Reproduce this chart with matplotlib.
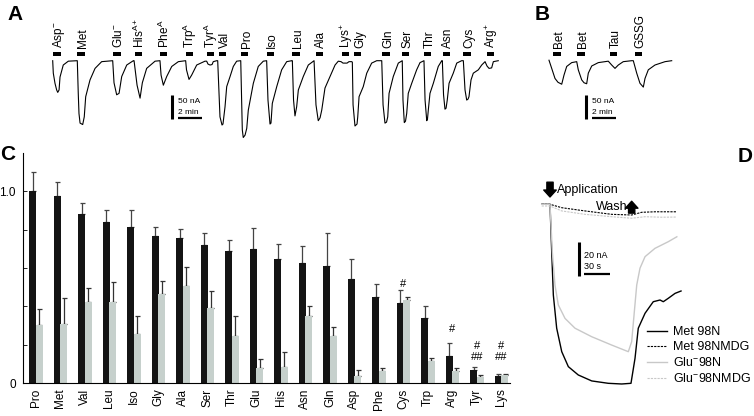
import matplotlib
matplotlib.use('Agg')
import matplotlib.pyplot as plt
from matplotlib.patches import Rectangle
import numpy as np

plt.rcParams['font.family'] = ['Liberation Sans', 'DejaVu Sans']
plt.rcParams['mathtext.fontset'] = 'custom'
plt.rcParams['mathtext.rm'] = 'Liberation Sans'
plt.rcParams['mathtext.it'] = 'Liberation Sans:italic'
plt.rcParams['mathtext.default'] = 'regular'

# ---------------- data ----------------
# Panel A: continuous current trace (time in min, current in nA)
trace_A_t = [0, 0.05, 0.19, 0.33, 0.42, 0.53, 0.61, 0.88, 1.3, 2.0,
             2.05, 2.13, 2.19, 2.28, 2.5, 2.63, 2.75, 3.11, 3.53, 4.08, 4.92,
             5.0, 5.11, 5.33, 5.53, 5.75, 6.17, 6.72,
             6.78, 7.03, 7.28, 7.47, 7.83, 8.53, 8.94,
             9.03, 9.22, 9.5, 9.92, 10.47, 11.03,
             11.08, 11.15, 11.36, 11.58, 12.0, 12.69,
             12.83, 12.94, 13.11, 13.28, 13.38, 13.67, 13.75,
             13.94, 14.11, 14.19, 14.36, 14.5, 14.78, 15.05, 15.33, 15.61,
             15.67, 15.8, 15.88, 16.03, 16.17, 16.3, 16.72, 17.13, 17.55, 17.83,
             17.94, 18.11, 18.19, 18.3, 18.67, 19.08, 19.5, 19.92,
             19.97, 20.07, 20.19, 20.33, 20.47, 20.88, 21.3, 21.72,
             21.78, 21.94, 22.13, 22.28, 22.42, 22.69, 23.11, 23.53, 23.8,
             24.03, 24.19, 24.53, 24.69, 24.92,
             24.97, 25.03, 25.19, 25.36, 25.42, 25.53, 25.88, 26.17, 26.58, 27.0, 27.36,
             27.42, 27.53, 27.69, 27.82, 27.92, 28.03, 28.38, 28.8, 29.13,
             29.19, 29.3, 29.4, 29.5, 29.63, 29.92, 30.33, 30.61, 30.94,
             31.03, 31.17, 31.23, 31.3, 31.44, 31.72, 32.13, 32.42,
             32.47, 32.57, 32.69, 32.78, 32.88, 33.03, 33.38, 33.67, 34.08, 34.22,
             34.36, 34.5, 34.61, 34.69, 34.86, 35.05, 35.47, 35.75, 36.03,
             36.19, 36.36, 36.58, 36.72, 37.13]
trace_A_nA = [0, -26, -47, -61, -66, -61, -34, -9, -1, 0,
              0, -68, -110, -130, -133, -117, -75, -40, -16, -2, 0,
              0, -46, -71, -68, -33, -9, 0,
              0, -51, -78, -46, -16, -1, 0,
              -30, -51, -33, -12, -2, 0,
              0, -19, -39, -30, -9, -1,
              -1, -7, -9, -8, -2, 0, 0,
              -117, -134, -132, -96, -54, -33, -12, -1, 0,
              0, -144, -160, -155, -141, -103, -47, -12, -1, 0,
              -82, -132, -130, -89, -54, -19, -2, 0,
              0, -82, -115, -96, -61, -33, -9, -1,
              0, -92, -125, -119, -103, -57, -33, -9, -1,
              -2, -5, -5, -2, -2,
              -3, -92, -136, -132, -117, -75, -54, -26, -5, 0, 0,
              0, -92, -130, -128, -117, -68, -33, -5, 0,
              -82, -129, -126, -110, -68, -47, -19, -4, 0,
              -82, -125, -122, -103, -68, -47, -12, 0,
              0, -71, -101, -99, -82, -47, -26, -5, 0, 0,
              -61, -82, -80, -75, -40, -26, -19, -9, -2,
              -11, -16, -15, -2, 0]
A_labels = [r'Asp$^{-}$', 'Met', r'Glu$^{-}$', r'His$^{A+}$', r'Phe$^{A}$', r'Trp$^{A}$',
            r'Tyr$^{A}$', 'Val', 'Pro', 'Iso', 'Leu', 'Ala', r'Lys$^{+}$', 'Gly',
            'Gln', 'Ser', 'Thr', 'Asn', 'Cys', r'Arg$^{+}$']
A_onsets = [0.05, 2.05, 5.05, 6.86, 8.94, 11.08, 12.83, 13.88, 15.69, 17.83,
            19.97, 21.92, 24.08, 25.13, 27.47, 29.08, 30.94, 32.5, 34.22, 36.17]
A_app_dur = 0.6          # min
scale_nA = 50
scale_min = 2

# Panel B
trace_B_t = [0, 0.225, 0.5, 0.75, 1.06, 1.25, 1.475, 1.89, 2.31,
             2.44, 2.725, 2.92, 3.14, 3.275, 3.56, 4.11, 4.94,
             5.225, 5.5, 5.775, 6.19, 6.89,
             7.025, 7.31, 7.58, 7.86, 8.0, 8.275, 8.83, 9.67, 10.225]
trace_B_nA = [1, -16, -37, -45, -49, -30, -12, -4, -2,
              -19, -40, -46, -48, -26, -11, -4, -1,
              -9, -16, -9, -2, 0,
              0, -26, -47, -55, -37, -19, -9, -2, 0]
B_labels = ['Bet', 'Bet', 'Tau', 'GSSG']
B_onsets = [0.36, 2.36, 5.08, 7.17]

# Panel C: normalized responses
aa = ['Pro', 'Met', 'Val', 'Leu', 'Iso', 'Gly', 'Ala', 'Ser', 'Thr', 'Glu',
      'His', 'Asn', 'Gln', 'Asp', 'Phe', 'Cys', 'Trp', 'Arg', 'Tyr', 'Lys']
black_mean = [1.00, 0.974, 0.88, 0.84, 0.816, 0.769, 0.758, 0.72, 0.689, 0.699,
              0.649, 0.628, 0.61, 0.544, 0.449, 0.419, 0.339, 0.143, 0.066, 0.037]
black_err = [0.10, 0.075, 0.06, 0.06, 0.088, 0.047, 0.047, 0.063, 0.059, 0.108,
             0.074, 0.089, 0.174, 0.103, 0.068, 0.068, 0.064, 0.067, 0.017, 0.010]
gray_mean = [0.303, 0.308, 0.421, 0.421, 0.256, 0.466, 0.504, 0.39, 0.247, 0.08,
             0.085, 0.351, 0.247, 0.035, 0.063, 0.431, 0.113, 0.061, 0.03, 0.04]
gray_err = [0.085, 0.137, 0.076, 0.106, 0.094, 0.066, 0.103, 0.09, 0.101, 0.045,
            0.078, 0.052, 0.047, 0.031, 0.017, 0.019, 0.019, 0.019, 0.010, 0.009]
sig_idx = [15, 17, 18, 18, 19, 19]
sig_txt = ['#', '#', '#', '##', '#', '##']
sig_y = [0.515, 0.282, 0.193, 0.134, 0.193, 0.134]

# Panel D: traces (time in s, current in nA)
met98N_t = [-9.7, 0, 2, 3.9, 7.8, 13.7, 21.4, 33, 48.7, 68, 83.7, 94.5,
            99.2, 103, 110.9, 120.5, 128.4, 132.2, 138, 145.9, 152.9]
met98N_nA = [0, 0, -27.9, -53.4, -72.9, -86.7, -95.5, -100.4, -103.9, -105.3, -105.7, -105.3,
             -90.6, -72.9, -64.1, -57.3, -56.3, -57.3, -55.3, -52.4, -51]
glu98N_t = [-9.7, 0, 2.7, 5.8, 9.7, 17.5, 29.2, 48.7, 72, 91.4,
            95.3, 98.4, 101.2, 105, 110.9, 122.5, 138, 148]
glu98N_nA = [0, 0, -27.9, -47.5, -59.2, -67.1, -72.9, -77.9, -82.8, -86.7,
             -80.8, -63.2, -47.5, -37.6, -30.8, -25.9, -22, -19.1]
met98NMDG_t = [-9.7, 0, 13.7, 40.8, 72, 95.3, 107, 122.5, 148]
met98NMDG_nA = [0, 0, -2, -3.9, -5.9, -6.3, -4.7, -4.4, -4.4]
glu98NMDG_t = [-9.7, 0, 13.7, 40.8, 72, 95.3, 110.9, 130.4, 148]
glu98NMDG_nA = [-1, -1, -3.9, -5.9, -7.3, -8.2, -7.3, -7.6, -7.5]
D_scale_nA = 20
D_scale_s = 30
wash_time = 95.3

# ---------------- figure ----------------
W, H = 754, 416
fig = plt.figure(figsize=(W / 100, H / 100), dpi=100)


def add_px_axes(x0, y0, x1, y1):
    ax = fig.add_axes([x0 / W, 1 - y1 / H, (x1 - x0) / W, (y1 - y0) / H])
    ax.set_axis_off()
    return ax


def trace_axes(box, origin, sx, sy):
    x0, y0, x1, y1 = box
    ax = add_px_axes(*box)
    ax.set_xlim((x0 - origin[0]) / sx, (x1 - origin[0]) / sx)
    ax.set_ylim((origin[1] - y1) / sy, (origin[1] - y0) / sy)
    return ax


def draw_markers(ax, labels, onsets, dur, fs):
    for lab, on in zip(labels, onsets):
        ax.add_patch(Rectangle((on, 10), dur, 9, color='black', lw=0))
        ax.text(on + dur / 2 + 0.42, 27, lab, rotation=90, rotation_mode='anchor',
                ha='left', va='baseline', fontsize=fs)


def scale_bar(ax, x, ytop, dy, dx, xtxt, lab1, lab2, fs, ytxt1, ytxt2):
    ax.plot([x, x], [ytop, ytop - dy], color='black', lw=2.2, solid_capstyle='butt')
    ax.plot([xtxt, xtxt + dx], [ytop - dy + 1.9, ytop - dy + 1.9],
            color='black', lw=1.6, solid_capstyle='butt')
    ax.text(xtxt, ytxt1, lab1, fontsize=fs, va='center', ha='left')
    ax.text(xtxt, ytxt2, lab2, fontsize=fs, va='center', ha='left')


# Panel A
axA = trace_axes((40, 0, 512, 140), (52.7, 60.7), 12, 0.48)
axA.plot(trace_A_t, trace_A_nA, color='black', lw=0.8)
draw_markers(axA, A_labels, A_onsets, A_app_dur, 8.5)
scale_bar(axA, 9.92, -71.5, scale_nA, scale_min, 10.44, f'{scale_nA} nA', f'{scale_min} min', 6,
          -84, -107)

# Panel B
axB = trace_axes((540, 0, 700, 140), (549, 60.7), 12, 0.48)
axB.plot(trace_B_t, trace_B_nA, color='black', lw=0.8)
draw_markers(axB, B_labels, B_onsets, A_app_dur, 8.5)
scale_bar(axB, 3.08, -71.5, scale_nA, scale_min, 3.56, f'{scale_nA} nA', f'{scale_min} min', 6,
          -84, -107)

# Panel C
axC = fig.add_axes([22.7 / W, 33 / H, (510 - 22.7) / W, 230 / H])
x = np.arange(len(aa))
off, bw = 0.135, 0.28
axC.bar(x - off, black_mean, bw, color='#141414', zorder=2)
axC.bar(x + off, gray_mean, bw, color='#c6d0cc', zorder=2)
z = np.zeros(len(aa))
axC.errorbar(x - off, black_mean, yerr=[z, black_err], fmt='none', ecolor='#444444',
             elinewidth=0.9, capsize=1.8, capthick=0.9, zorder=1)
axC.errorbar(x + off, gray_mean, yerr=[z, gray_err], fmt='none', ecolor='#333333',
             elinewidth=0.9, capsize=1.8, capthick=0.9, zorder=1)
for i, t, yv in zip(sig_idx, sig_txt, sig_y):
    axC.text(i, yv, t, ha='center', va='center', fontsize=8)
axC.set_xlim(-0.543, 19.35)
axC.set_ylim(0, 1.2)
for s in ['top', 'right']:
    axC.spines[s].set_visible(False)
for s in ['left', 'bottom']:
    axC.spines[s].set_linewidth(0.8)
axC.set_yticks([0, 0.2, 0.4, 0.6, 0.8, 1.0])
axC.set_yticklabels(['0', '', '', '', '', '1.0'], fontsize=8.5)
axC.tick_params(axis='y', direction='in', length=3, width=0.6, pad=5)
axC.set_xticks(x)
axC.set_xticklabels(aa, rotation=90, fontsize=8.5)
axC.tick_params(axis='x', length=0, pad=4)

# Panel D
axD = trace_axes((530, 170, 754, 395), (550, 204.3), 0.857, 1.7)
axD.plot(met98N_t, met98N_nA, color='black', lw=1.0, label='Met 98N')
axD.plot(met98NMDG_t, met98NMDG_nA, color='black', lw=0.8, ls=(0, (2, 1)), label='Met 98NMDG')
axD.plot(glu98N_t, glu98N_nA, color='#c8c8c8', lw=1.0, label=r'Glu$^{-}$98N')
axD.plot(glu98NMDG_t, glu98NMDG_nA, color='#c8c8c8', lw=0.8, ls=(0, (2, 1)), label=r'Glu$^{-}$98NMDG')
axD.annotate('', xy=(0, 4.3), xytext=(0, 13),
             arrowprops=dict(arrowstyle='simple,head_length=0.5,head_width=0.9,tail_width=0.45',
                             color='black', shrinkA=0, shrinkB=0), annotation_clip=False)
axD.text(7.8, 8.4, 'Application', fontsize=9, ha='left', va='center')
axD.annotate('', xy=(wash_time, 1.8), xytext=(wash_time, -5.2),
             arrowprops=dict(arrowstyle='simple,head_length=0.5,head_width=0.9,tail_width=0.45',
                             color='black', shrinkA=0, shrinkB=0))
axD.text(wash_time - 5, -1.4, 'Wash', fontsize=9, ha='right', va='center')
# scale bar D
axD.plot([33.5, 33.5], [-22, -22 - D_scale_nA], color='black', lw=2.2, solid_capstyle='butt')
axD.plot([40, 40 + D_scale_s], [-41.2, -41.2], color='black', lw=1.6, solid_capstyle='butt')
axD.text(40, -30.4, f'{D_scale_nA} nA', fontsize=6.5, ha='left', va='center')
axD.text(40, -36.3, f'{D_scale_s} s', fontsize=6.5, ha='left', va='center')
axD.legend(loc='upper left', bbox_to_anchor=(647 / W, 1 - 326 / H), bbox_transform=fig.transFigure,
           frameon=False, fontsize=9, handlelength=1.6, handletextpad=0.45,
           labelspacing=0.25, borderpad=0, borderaxespad=0)

# panel letters
for lab, px, py in [('A', 15, 14), ('B', 542, 14), ('C', 8, 155), ('D', 745, 157)]:
    fig.text(px / W, 1 - py / H, lab, fontsize=15, fontweight='bold', ha='center', va='center')

fig.savefig('out.png', dpi=100)
